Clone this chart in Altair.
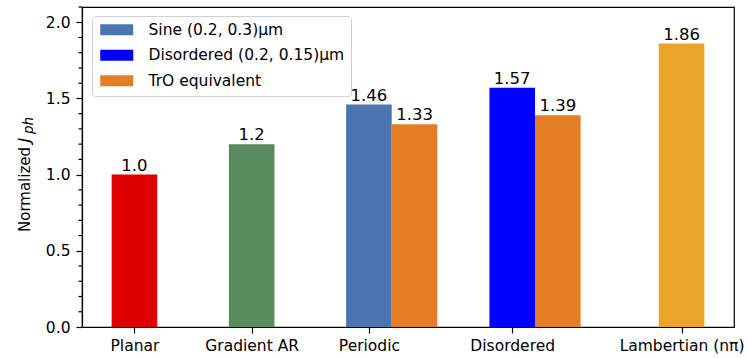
import altair as alt
import pandas as pd

# ---- data ----
categories = ["Planar", "Gradient AR", "Periodic", "Disordered", "Lambertian (nπ)"]
positions = [0.0, 0.9, 1.8, 2.9, 4.2]
main_values = [1.0, 1.2, 1.46, 1.57, 1.86]
main_series = ["Planar", "Gradient AR", "Sine (0.2, 0.3)μm", "Disordered (0.2, 0.15)μm", "Lambertian"]
tro_values = [None, None, 1.33, 1.39, None]
tro_series = "TrO equivalent"
bar_width = 0.35

series_names = ["Planar", "Gradient AR", "Sine (0.2, 0.3)μm", "Disordered (0.2, 0.15)μm",
                "TrO equivalent", "Lambertian"]
series_colors = ["#dc0000", "#578a5c", "#4a75b0", "#0000ff", "#e47e24", "#e8a52a"]
legend_entries = ["Sine (0.2, 0.3)μm", "Disordered (0.2, 0.15)μm", "TrO equivalent"]
y_major = [0.0, 0.5, 1.0, 1.5, 2.0]
y_minor = [0.1, 0.2, 0.3, 0.4, 0.6, 0.7, 0.8, 0.9, 1.1, 1.2, 1.3, 1.4,
           1.6, 1.7, 1.8, 1.9, 2.1]
y_title_main = "Normalized "
y_title_symbol = "J"
y_title_sub = "ph"

rows = []
for pos, v, s, t in zip(positions, main_values, main_series, tro_values):
    rows.append(dict(center=pos, x0=pos - bar_width / 2, x1=pos + bar_width / 2,
                     value=v, series=s, label=str(v)))
    if t is not None:
        c = pos + bar_width
        rows.append(dict(center=c, x0=c - bar_width / 2, x1=c + bar_width / 2,
                         value=t, series=tro_series, label=str(t)))
df = pd.DataFrame(rows)
minor_df = pd.DataFrame({"tick": y_minor})
one = pd.DataFrame({"k": [0]})

FONT = "DejaVu Sans"

# x label expression from the category list
expr = "''"
for p, c in reversed(list(zip(positions, categories))):
    expr = f"abs(datum.value - {p}) < 0.001 ? '{c}' : ({expr})"

xmin = min(positions) - bar_width / 2
xmax = max(positions) + bar_width / 2
margin = 0.05 * (xmax - xmin)
xscale = alt.Scale(domain=[xmin - margin, xmax + margin], nice=False, zero=False, padding=0)
yscale = alt.Scale(domain=[0, 2.1], nice=False, zero=True, padding=0)

base = alt.Chart(df)

bars = base.mark_bar(strokeWidth=0, orient="vertical").encode(
    x=alt.X("x0:Q", scale=xscale,
            axis=alt.Axis(values=positions, labelExpr=expr, title=None, grid=False,
                          tickSize=6, tickColor="black", tickWidth=1.2,
                          domainColor="black", domainWidth=1.2,
                          labelFont=FONT, labelFontSize=15.5, labelColor="black",
                          labelPadding=5, labelFlush=False)),
    x2="x1:Q",
    y=alt.Y("value:Q", scale=yscale,
            axis=alt.Axis(values=y_major, format=".1f", tickSize=6, title=None,
                          grid=False, tickColor="black", tickWidth=1.2,
                          domainColor="black", domainWidth=1.2,
                          labelFont=FONT, labelFontSize=15.5, labelColor="black",
                          labelPadding=6, labelFlush=False)),
    y2=alt.datum(0),
    color=alt.Color("series:N",
                    scale=alt.Scale(domain=series_names, range=series_colors),
                    legend=alt.Legend(values=legend_entries, title=None, orient="none",
                                      legendX=10, legendY=9,
                                      symbolType="M-1,-1H5V1H-1Z", symbolSize=121,
                                      symbolStrokeWidth=0, symbolOpacity=1,
                                      labelFont=FONT, labelFontSize=15.5, labelColor="black",
                                      labelOffset=35, rowPadding=8.5, labelLimit=400,
                                      strokeColor="#d0d0d0", cornerRadius=3,
                                      fillColor="rgba(255,255,255,0.8)", padding=6)),
)

text = base.mark_text(dy=-9, fontSize=16.5, font=FONT, color="black").encode(
    x=alt.X("center:Q", scale=xscale),
    y=alt.Y("value:Q", scale=yscale),
    text="label:N",
)

minor = alt.Chart(minor_df).mark_rule(color="black", strokeWidth=1.2).encode(
    y=alt.Y("tick:Q", scale=yscale),
    x=alt.value(-3.5),
    x2=alt.value(0),
)

# y-axis title: "Normalized J_ph" (rotated, italic J with italic subscript)
t_main = alt.Chart(one).mark_text(text=y_title_main, angle=270, align="left",
                                  baseline="alphabetic", font=FONT, fontSize=15,
                                  color="black").encode(x=alt.value(-52), y=alt.value(225))
t_sym = alt.Chart(one).mark_text(text=y_title_symbol, angle=270, align="left",
                                 baseline="alphabetic", font=FONT, fontSize=16,
                                 fontStyle="italic", color="black").encode(
    x=alt.value(-52), y=alt.value(135.5))
t_sub = alt.Chart(one).mark_text(text=y_title_sub, angle=270, align="left",
                                 baseline="alphabetic", font=FONT, fontSize=13.5,
                                 fontStyle="italic", color="black").encode(
    x=alt.value(-49), y=alt.value(127))

chart = alt.layer(bars, text, minor, t_main, t_sym, t_sub).properties(
    width=652, height=320,
    autosize=alt.AutoSizeParams(type="none"),
    padding={"left": 82, "top": 7, "right": 14, "bottom": 31},
    background="white",
).configure_view(stroke="black", strokeWidth=1.2)

chart.save("out.html", embed_options={"renderer": "svg", "actions": False})
